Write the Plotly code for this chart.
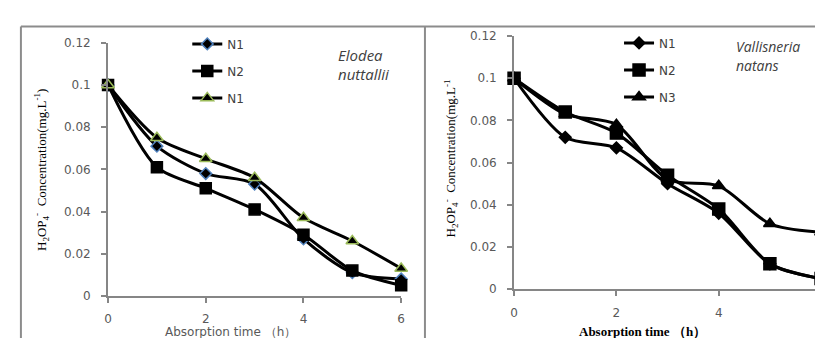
import plotly.graph_objects as go

time_h = [0, 1, 2, 3, 4, 5, 6]

# Left panel: Elodea nuttallii
elodea_n1 = [0.100, 0.071, 0.058, 0.053, 0.027, 0.011, 0.008]
elodea_n2 = [0.100, 0.061, 0.051, 0.041, 0.029, 0.012, 0.005]
elodea_n3 = [0.100, 0.075, 0.065, 0.056, 0.037, 0.026, 0.013]
elodea_names = ["N1", "N2", "N1"]

# Right panel: Vallisneria natans
vallis_n1 = [0.100, 0.072, 0.067, 0.050, 0.036, 0.012, 0.005]
vallis_n2 = [0.100, 0.084, 0.074, 0.054, 0.038, 0.012, 0.005]
vallis_n3 = [0.100, 0.083, 0.078, 0.052, 0.049, 0.031, 0.027]
vallis_names = ["N1", "N2", "N3"]

y_ticks = [0, 0.02, 0.04, 0.06, 0.08, 0.1, 0.12]
x_ticks = [0, 2, 4, 6]

W, H = 823, 338
AX = "#868686"
TICKFONT = dict(family="DejaVu Sans", size=12, color="#595959")

fig = go.Figure()

def add(x, y, name, xa, ya, legend, group, symbol, size, fill, outline):
    fig.add_trace(go.Scatter(
        x=x, y=y, name=name, xaxis=xa, yaxis=ya, legend=legend,
        legendgroup=group, mode="lines+markers",
        line=dict(color="black", width=3, shape="spline", smoothing=0.8),
        marker=dict(symbol=symbol, size=size, color=fill,
                    line=dict(color=outline, width=1.5)),
        cliponaxis=False,
    ))

add(time_h, elodea_n1, elodea_names[0], "x", "y", "legend", "a1", "diamond", 9, "black", "#4f81bd")
add(time_h, elodea_n2, elodea_names[1], "x", "y", "legend", "a2", "square", 11, "black", "black")
add(time_h, elodea_n3, elodea_names[2], "x", "y", "legend", "a3", "triangle-up", 11, "black", "#9bbb59")

add(time_h, vallis_n1, vallis_names[0], "x2", "y2", "legend2", "b1", "diamond", 9, "black", "black")
add(time_h, vallis_n2, vallis_names[1], "x2", "y2", "legend2", "b2", "square", 12, "black", "black")
add(time_h, vallis_n3, vallis_names[2], "x2", "y2", "legend2", "b3", "triangle-up", 11, "black", "black")

def xa(dom, anchor):
    return dict(domain=dom, anchor=anchor, range=[0, 6], tickvals=x_ticks,
                showline=True, linecolor=AX, linewidth=2, ticks="outside",
                ticklen=5, tickcolor=AX, tickwidth=2, showgrid=False,
                zeroline=False, tickfont=TICKFONT, ticklabelstandoff=6)

def ya(dom, anchor):
    return dict(domain=dom, anchor=anchor, range=[0, 0.12], tickvals=y_ticks,
                showline=True, linecolor=AX, linewidth=2, ticks="outside",
                ticklen=5, tickcolor=AX, tickwidth=2, showgrid=False,
                zeroline=False, tickfont=TICKFONT, ticklabelstandoff=8)

fig.update_layout(
    width=W, height=H, margin=dict(l=0, r=0, t=0, b=0),
    plot_bgcolor="white", paper_bgcolor="white",
    xaxis=xa([97 / W, 393 / W], "y"),
    yaxis=ya([1 - 293 / H, 1 - 29 / H], "x"),
    xaxis2=xa([507 / W, 817 / W], "y2"),
    yaxis2=ya([1 - 286 / H, 1 - 22 / H], "x2"),
    legend=dict(x=177 / W, y=1 - 15 / H, xanchor="left", yanchor="top",
                bgcolor="rgba(0,0,0,0)", tracegroupgap=8,
                font=dict(family="DejaVu Sans", size=12, color="#404040")),
    legend2=dict(x=613 / W, y=1 - 14 / H, xanchor="left", yanchor="top",
                 bgcolor="rgba(0,0,0,0)", tracegroupgap=8,
                 font=dict(family="DejaVu Sans", size=12, color="#404040")),
    showlegend=True,
)

ytitle_l = "H<sub>2</sub>OP<sub>4</sub><sup>-</sup>  Concentration(mg.L<sup>-1</sup>)"
ytitle_r = "H<sub>2</sub>OP<sub>4</sub><sup>-</sup>  Concentration(mg.L<sup>-1</sup>"
serif = dict(family="Liberation Serif", size=13, color="black")

ann = [
    dict(x=30 / W, y=1 - 162 / H, text=ytitle_l, textangle=-90, font=serif),
    dict(x=443 / W, y=1 - 150 / H, text=ytitle_r, textangle=-90, font=serif),
    dict(x=221 / W, y=1 - 331 / H, text="Absorption time （h）",
         font=dict(family="DejaVu Sans", size=12, color="#595959")),
    dict(x=637 / W, y=1 - 330 / H, text="<b>Absorption time （h）</b>",
         font=dict(family="Liberation Serif", size=13, color="black")),
    dict(x=327 / W, y=1 - 42 / H, text="<i>Elodea</i>", xanchor="left",
         font=dict(family="Open Sans", size=15, color="#404040")),
    dict(x=327 / W, y=1 - 62 / H, text="<i>nuttallii</i>", xanchor="left",
         font=dict(family="Open Sans", size=15, color="#404040")),
    dict(x=729 / W, y=1 - 33 / H, text="<i>Vallisneria</i>", xanchor="left",
         font=dict(family="Open Sans", size=14, color="#404040")),
    dict(x=729 / W, y=1 - 53 / H, text="<i>natans</i>", xanchor="left",
         font=dict(family="Open Sans", size=14, color="#404040")),
]
for a in ann:
    a.setdefault("xanchor", "center")
    a.update(xref="paper", yref="paper", yanchor="middle", showarrow=False)
fig.update_layout(annotations=ann)

border = dict(color="#8c8c8c", width=2)
fig.update_layout(shapes=[
    dict(type="line", xref="paper", yref="paper", x0=9 / W, x1=9 / W, y0=0, y1=1 - 12 / H, line=border),
    dict(type="line", xref="paper", yref="paper", x0=9 / W, x1=1, y0=1 - 12 / H, y1=1 - 12 / H, line=border),
    dict(type="line", xref="paper", yref="paper", x0=417 / W, x1=417 / W, y0=0, y1=1 - 12 / H, line=border),
])

fig.write_html("out.html")
